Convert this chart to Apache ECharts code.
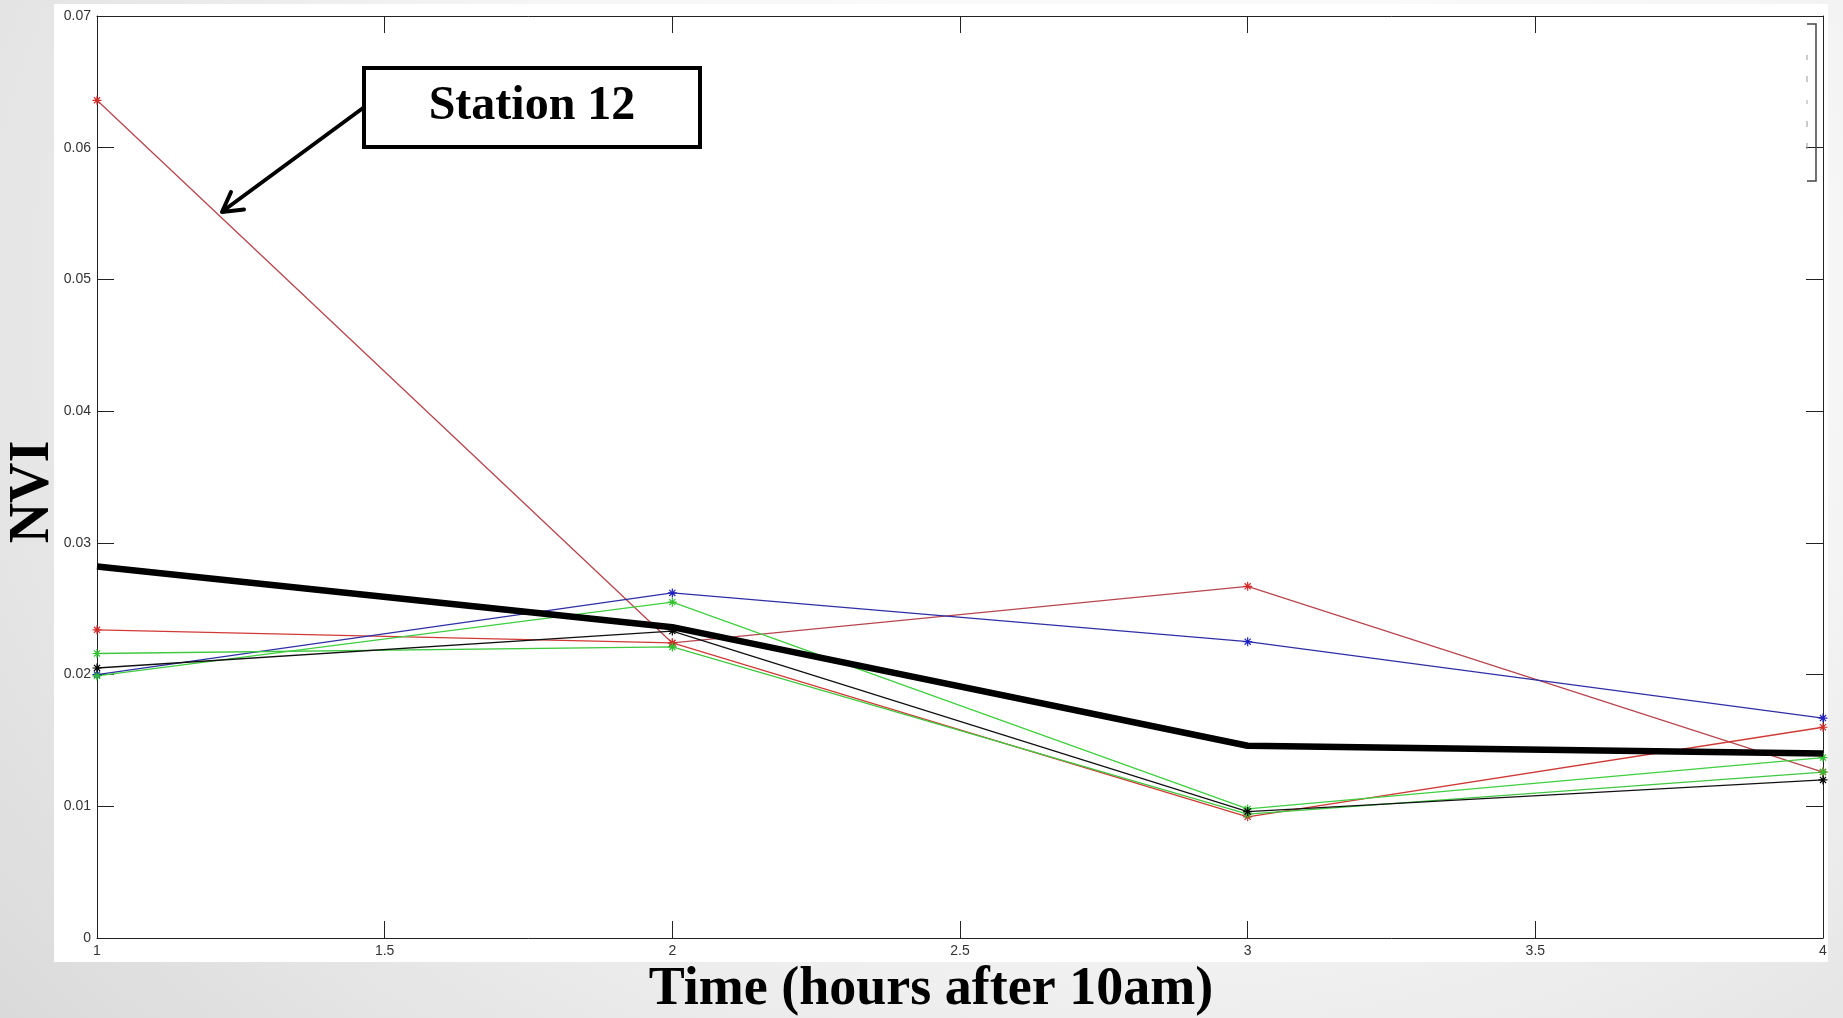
<!DOCTYPE html>
<html><head><meta charset="utf-8">
<script src="https://cdn.jsdelivr.net/npm/echarts@6/dist/echarts.min.js"></script>
<style>
html,body{margin:0;padding:0;width:1843px;height:1018px;overflow:hidden;}
body{background: radial-gradient(ellipse 85% 120% at 62% 30%, #ffffff 0%, #f6f6f6 45%, #d6d6d6 100%);}
#chart{width:1843px;height:1018px;}
</style></head><body><div id="chart"></div>
<script>
// ---- data ----
const hours = [1, 2, 3, 4];
const station12     = [0.0636, 0.0224, 0.0267, 0.0126];
const stationRed    = [0.0234, 0.0224, 0.0092, 0.0160];
const stationBlue   = [0.0200, 0.0262, 0.0225, 0.0167];
const stationGreenA = [0.0199, 0.0255, 0.0098, 0.0137];
const stationGreenB = [0.0216, 0.0221, 0.0094, 0.0126];
const stationBlack  = [0.0205, 0.0233, 0.0096, 0.0120];
const meanNVI       = [0.0282, 0.0236, 0.0146, 0.0140];
const xTicks = [1, 1.5, 2, 2.5, 3, 3.5, 4];
const yTicks = [0, 0.01, 0.02, 0.03, 0.04, 0.05, 0.06, 0.07];

const pair = arr => hours.map((h, i) => [h, arr[i]]);
const asterisk = 'path://M5,0L5,10M0,5L10,5M1.6,1.6L8.4,8.4M1.6,8.4L8.4,1.6';

function thin(name, data, lineColor, markColor) {
  return {
    name, type: 'line', data: pair(data),
    symbol: asterisk, symbolSize: 9, showSymbol: true,
    lineStyle: { color: lineColor, width: 1.3 },
    itemStyle: { color: markColor, borderColor: markColor, borderWidth: 1.2 },
    emphasis: { disabled: true }
  };
}

const chart = echarts.init(document.getElementById('chart'), null, { renderer: 'canvas' });
const axisTxt = { color: '#333', fontFamily: 'Liberation Sans, Arial, sans-serif', fontSize: 14 };
const xStep = xTicks[1] - xTicks[0];
const yStep = +(yTicks[1] - yTicks[0]).toFixed(4);

chart.setOption({
  animation: false,
  backgroundColor: 'transparent',
  grid: { left: 97, right: 20, top: 16, bottom: 80, containLabel: false },
  xAxis: [{
    type: 'value', min: xTicks[0], max: xTicks[xTicks.length - 1], interval: xStep,
    axisLine: { show: true, onZero: false, lineStyle: { color: '#222', width: 1 } },
    axisTick: { show: true, inside: true, length: 17, lineStyle: { color: '#222' } },
    axisLabel: Object.assign({ margin: 6 }, axisTxt),
    splitLine: { show: false }
  }, {
    type: 'value', position: 'top', min: xTicks[0], max: xTicks[xTicks.length - 1], interval: xStep,
    axisLine: { show: true, onZero: false, lineStyle: { color: '#222', width: 1 } },
    axisTick: { show: true, inside: true, length: 17, lineStyle: { color: '#222' } },
    axisLabel: { show: false }, splitLine: { show: false }
  }],
  yAxis: [{
    type: 'value', min: yTicks[0], max: yTicks[yTicks.length - 1], interval: yStep,
    axisLine: { show: true, onZero: false, lineStyle: { color: '#222', width: 1 } },
    axisTick: { show: true, inside: true, length: 17, lineStyle: { color: '#222' } },
    axisLabel: Object.assign({ margin: 6 }, axisTxt),
    splitLine: { show: false }
  }, {
    type: 'value', position: 'right', min: yTicks[0], max: yTicks[yTicks.length - 1], interval: yStep,
    axisLine: { show: true, onZero: false, lineStyle: { color: '#222', width: 1 } },
    axisTick: { show: true, inside: true, length: 17, lineStyle: { color: '#222' } },
    axisLabel: { show: false }, splitLine: { show: false }
  }],
  series: [
    thin('Station 12', station12, '#b8464e', '#d42a2a'),
    thin('Red', stationRed, '#d03a36', '#d42a2a'),
    thin('Blue', stationBlue, '#2f2fa6', '#2020c0'),
    thin('Green A', stationGreenA, '#3fcf3f', '#2fbf2f'),
    thin('Green B', stationGreenB, '#3fc93f', '#2fbf2f'),
    thin('Black', stationBlack, '#111111', '#000000'),
    {
      name: 'Mean', type: 'line', data: pair(meanNVI), symbol: 'none',
      lineStyle: { color: '#000', width: 6.5 }, emphasis: { disabled: true }, z: 5
    }
  ],
  graphic: [
    { type: 'rect', z: -100, shape: { x: 54, y: 4, width: 1774, height: 958 }, style: { fill: '#ffffff' } },
    // legend remnant bracket
    { type: 'polyline', z: 10, shape: { points: [[1807, 24], [1816, 24], [1816, 181], [1807, 181]] },
      style: { stroke: '#444', lineWidth: 1.5, fill: null } },
    { type: 'line', z: 10, shape: { x1: 1807, y1: 55, x2: 1807, y2: 60 }, style: { stroke: '#999', lineWidth: 1 } },
    { type: 'line', z: 10, shape: { x1: 1807, y1: 76, x2: 1807, y2: 82 }, style: { stroke: '#999', lineWidth: 1 } },
    { type: 'line', z: 10, shape: { x1: 1807, y1: 100, x2: 1807, y2: 104 }, style: { stroke: '#aaa', lineWidth: 1 } },
    { type: 'line', z: 10, shape: { x1: 1807, y1: 121, x2: 1807, y2: 127 }, style: { stroke: '#999', lineWidth: 1 } },
    { type: 'line', z: 10, shape: { x1: 1807, y1: 143, x2: 1807, y2: 149 }, style: { stroke: '#999', lineWidth: 1 } },
    // annotation box
    { type: 'rect', z: 20, shape: { x: 364, y: 68, width: 336, height: 79 },
      style: { fill: '#ffffff', stroke: '#000', lineWidth: 4 } },
    { type: 'text', z: 21, x: 532, y: 107,
      style: { text: 'Station 12', fill: '#000', font: 'bold 48px "Liberation Serif", "Times New Roman", serif',
               align: 'center', verticalAlign: 'middle' } },
    // arrow
    { type: 'line', z: 20, shape: { x1: 363, y1: 108, x2: 223, y2: 211 },
      style: { stroke: '#000', lineWidth: 4, lineCap: 'round' } },
    { type: 'polyline', z: 20, shape: { points: [[244, 209.5], [222, 212], [231, 192]] },
      style: { stroke: '#000', lineWidth: 4, fill: null, lineCap: 'round', lineJoin: 'round' } },
    // axis titles
    { type: 'text', z: 20, x: 931, y: 990,
      style: { text: 'Time (hours after 10am)', fill: '#000', font: 'bold 54px "Liberation Serif", "Times New Roman", serif',
               align: 'center', verticalAlign: 'middle' } },
    { type: 'text', z: 20, x: 34, y: 492, rotation: Math.PI / 2,
      style: { text: 'NVI', fill: '#000', font: 'bold 56px "Liberation Serif", "Times New Roman", serif',
               align: 'center', verticalAlign: 'middle' } }
  ]
});
</script></body></html>
